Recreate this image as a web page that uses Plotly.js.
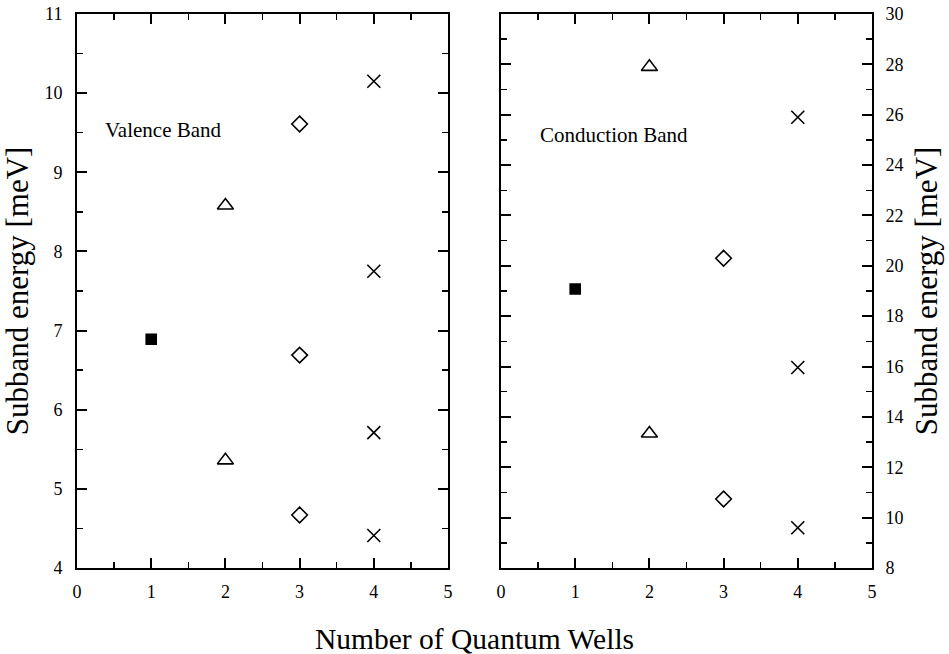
<!DOCTYPE html>
<html>
<head>
<meta charset="utf-8">
<script src="https://cdn.plot.ly/plotly-3.0.1.min.js"></script>
<style>body{margin:0;background:#fff}#plot{width:949px;height:654px}</style>
</head>
<body>
<div id="plot"></div>
<script>
// Valence band (left panel)
const vbSquareX = [1], vbSquareY = [6.89];
const vbTriX = [2, 2], vbTriY = [8.58, 5.36];
const vbDiaX = [3, 3, 3], vbDiaY = [9.61, 6.69, 4.67];
const vbCrossX = [4, 4, 4, 4], vbCrossY = [10.15, 7.75, 5.71, 4.41];
// Conduction band (right panel)
const cbSquareX = [1], cbSquareY = [19.08];
const cbTriX = [2, 2], cbTriY = [27.9, 13.34];
const cbDiaX = [3, 3], cbDiaY = [20.3, 10.74];
const cbCrossX = [4, 4, 4], cbCrossY = [25.9, 15.96, 9.6];

const font = 'Liberation Serif, Times New Roman, serif';
function tr(x, y, sym, size, xa, ya) {
  return {x, y, xaxis: xa, yaxis: ya, mode: 'markers', type: 'scatter', showlegend: false,
    marker: {symbol: sym, size: size, color: '#000', line: {color: '#000', width: 1.6}}};
}
const data = [
  tr(vbSquareX, vbSquareY, 'square', 10, 'x', 'y'),
  tr(vbTriX, vbTriY, 'triangle-up-open', 14, 'x', 'y'),
  tr(vbDiaX, vbDiaY, 'diamond-open', 12, 'x', 'y'),
  tr(vbCrossX, vbCrossY, 'x-thin-open', 13, 'x', 'y'),
  tr(cbSquareX, cbSquareY, 'square', 10, 'x2', 'y2'),
  tr(cbTriX, cbTriY, 'triangle-up-open', 14, 'x2', 'y2'),
  tr(cbDiaX, cbDiaY, 'diamond-open', 12, 'x2', 'y2'),
  tr(cbCrossX, cbCrossY, 'x-thin-open', 13, 'x2', 'y2'),
];
const minorCfg = (d) => ({dtick: d, ticks: 'inside', ticklen: 6, tickwidth: 1.5, tickcolor: '#000'});
const common = {showline: true, linecolor: '#000', linewidth: 2, mirror: 'ticks', ticks: 'inside',
  ticklen: 10, tickwidth: 2, tickcolor: '#000', showgrid: false, zeroline: false,
  tickfont: {family: font, size: 18, color: '#000'}};
const layout = {
  width: 949, height: 654, paper_bgcolor: '#fff', plot_bgcolor: '#fff',
  margin: {l: 77, r: 77, t: 14, b: 86},
  font: {family: font, color: '#000'},
  xaxis: Object.assign({}, common, {domain: [0, 0.4667], range: [0, 5], dtick: 1, tick0: 0,
    ticklabelstandoff: 6, minor: minorCfg(0.5)}),
  yaxis: Object.assign({}, common, {range: [4, 11], dtick: 1, tick0: 4,
    ticklabelstandoff: 9, minor: minorCfg(0.5),
    title: {text: 'Subband energy [meV]', font: {family: font, size: 31}, standoff: 13}}),
  xaxis2: Object.assign({}, common, {domain: [0.5333, 1], range: [0, 5], dtick: 1, tick0: 0,
    anchor: 'y2', ticklabelstandoff: 6, minor: minorCfg(0.5)}),
  yaxis2: Object.assign({}, common, {range: [8, 30], dtick: 2, tick0: 8, anchor: 'x2', side: 'right',
    ticklabelstandoff: 8, minor: minorCfg(1),
    title: {text: 'Subband energy [meV]', font: {family: font, size: 31}, standoff: 13}}),
  annotations: [
    {text: 'Number of Quantum Wells', xref: 'paper', yref: 'paper', x: 0.5, y: -0.095,
      xanchor: 'center', yanchor: 'top', showarrow: false, font: {family: font, size: 29.5}},
    {text: 'Valence Band', xref: 'x', yref: 'y', x: 0.35, y: 9.53, xanchor: 'left',
      yanchor: 'middle', showarrow: false, font: {family: font, size: 21}},
    {text: 'Conduction Band', xref: 'x2', yref: 'y2', x: 0.5, y: 25.18, xanchor: 'left',
      yanchor: 'middle', showarrow: false, font: {family: font, size: 21}}
  ]
};
Plotly.newPlot('plot', data, layout, {displayModeBar: false, staticPlot: true});
</script>
</body>
</html>
